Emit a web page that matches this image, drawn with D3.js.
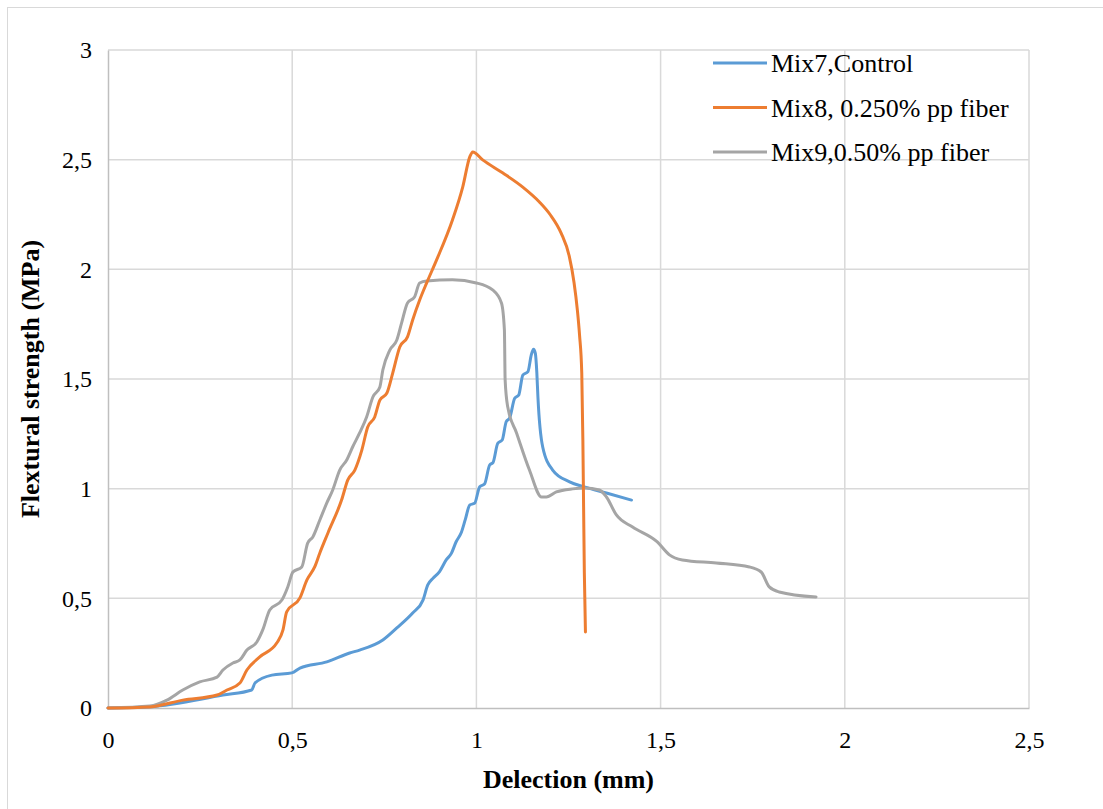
<!DOCTYPE html>
<html>
<head>
<meta charset="utf-8">
<script src="https://cdn.jsdelivr.net/npm/d3@7"></script>
<style>
  html, body { margin: 0; padding: 0; background: #fff; }
  svg { display: block; }
</style>
</head>
<body>
<svg id="chart" width="1103" height="809"></svg>
<script>
// Deflection (mm) / flexural strength (MPa) readings
const mix7X = [0, 0.114, 0.312, 0.390, 0.399, 0.445, 0.499, 0.521, 0.594, 0.656, 0.683, 0.746, 0.784, 0.827, 0.855, 0.868, 0.882, 0.900, 0.918, 0.932, 0.945, 0.959, 0.970, 0.982, 0.995, 1.009, 1.022, 1.036, 1.045, 1.058, 1.070, 1.081, 1.090, 1.104, 1.115, 1.126, 1.140, 1.149, 1.155, 1.160, 1.164, 1.167, 1.180, 1.207, 1.253, 1.293, 1.353, 1.421];
const mix7Y = [0, 0.006, 0.059, 0.082, 0.114, 0.150, 0.160, 0.182, 0.210, 0.251, 0.264, 0.310, 0.365, 0.433, 0.492, 0.561, 0.591, 0.622, 0.675, 0.705, 0.758, 0.800, 0.860, 0.926, 0.933, 1.009, 1.021, 1.108, 1.119, 1.207, 1.222, 1.306, 1.321, 1.412, 1.427, 1.518, 1.534, 1.610, 1.636, 1.617, 1.530, 1.418, 1.190, 1.085, 1.031, 1.008, 0.980, 0.948];

const mix8X = [0, 0.114, 0.203, 0.296, 0.323, 0.358, 0.377, 0.412, 0.458, 0.475, 0.485, 0.521, 0.540, 0.561, 0.575, 0.597, 0.634, 0.651, 0.670, 0.689, 0.705, 0.724, 0.738, 0.757, 0.773, 0.792, 0.813, 0.827, 0.846, 0.865, 0.892, 0.935, 0.963, 0.982, 0.990, 1.017, 1.071, 1.125, 1.171, 1.200, 1.230, 1.252, 1.265, 1.274, 1.280, 1.286, 1.289, 1.291, 1.293, 1.296];
const mix8Y = [0, 0.005, 0.036, 0.059, 0.082, 0.114, 0.173, 0.233, 0.296, 0.356, 0.438, 0.502, 0.584, 0.643, 0.707, 0.798, 0.948, 1.040, 1.085, 1.176, 1.281, 1.327, 1.404, 1.436, 1.528, 1.646, 1.692, 1.769, 1.860, 1.938, 2.043, 2.225, 2.376, 2.513, 2.535, 2.499, 2.440, 2.376, 2.307, 2.250, 2.165, 2.060, 1.940, 1.815, 1.700, 1.528, 1.222, 0.917, 0.616, 0.347];

const mix9X = [0, 0.114, 0.160, 0.203, 0.249, 0.296, 0.312, 0.339, 0.358, 0.377, 0.404, 0.420, 0.439, 0.472, 0.488, 0.502, 0.526, 0.542, 0.556, 0.575, 0.594, 0.610, 0.629, 0.648, 0.664, 0.683, 0.702, 0.719, 0.738, 0.746, 0.765, 0.784, 0.797, 0.813, 0.832, 0.846, 0.865, 0.935, 1.000, 1.044, 1.068, 1.076, 1.078, 1.085, 1.109, 1.144, 1.177, 1.190, 1.217, 1.261, 1.293, 1.334, 1.353, 1.380, 1.424, 1.491, 1.524, 1.559, 1.651, 1.741, 1.773, 1.795, 1.822, 1.922];
const mix9Y = [0, 0.009, 0.036, 0.082, 0.119, 0.141, 0.173, 0.205, 0.219, 0.264, 0.301, 0.356, 0.447, 0.492, 0.552, 0.620, 0.643, 0.752, 0.780, 0.857, 0.935, 0.994, 1.085, 1.131, 1.190, 1.254, 1.327, 1.418, 1.464, 1.541, 1.632, 1.678, 1.756, 1.847, 1.874, 1.938, 1.947, 1.952, 1.938, 1.906, 1.847, 1.724, 1.496, 1.373, 1.254, 1.085, 0.962, 0.962, 0.985, 0.999, 1.003, 0.994, 0.962, 0.880, 0.825, 0.757, 0.698, 0.675, 0.661, 0.643, 0.620, 0.552, 0.529, 0.506];

const seriesNames = ["Mix7,Control", "Mix8, 0.250% pp fiber", "Mix9,0.50% pp fiber"];
const seriesColors = ["#5b9bd5", "#ed7d31", "#a5a5a5"];

const xTicks = [0, 0.5, 1, 1.5, 2, 2.5];
const yTicks = [0, 0.5, 1, 1.5, 2, 2.5, 3];

const xTitle = "Delection (mm)";
const yTitle = "Flextural strength (MPa)";

const FONT = '"Liberation Serif", "Times New Roman", Tinos, "DejaVu Serif", serif';

const svg = d3.select("#chart");
const W = 1103, H = 809;
const plot = { left: 108, right: 1029, top: 50, bottom: 708 };

// outer chart frame
svg.append("rect")
  .attr("x", 7.5).attr("y", 7.5)
  .attr("width", W + 20).attr("height", H + 20)
  .attr("fill", "#fff").attr("stroke", "#d9d9d9").attr("stroke-width", 1);

const x = d3.scaleLinear().domain([0, 2.5]).range([plot.left, plot.right]);
const y = d3.scaleLinear().domain([0, 3]).range([plot.bottom, plot.top]);

const fmt = d => String(d).replace(".", ",");

// gridlines
const grid = svg.append("g").attr("stroke", "#d9d9d9").attr("stroke-width", 1.5);
xTicks.slice(1).forEach(t => {
  grid.append("line").attr("x1", x(t)).attr("x2", x(t)).attr("y1", plot.top).attr("y2", plot.bottom);
});
yTicks.slice(1).forEach(t => {
  grid.append("line").attr("x1", plot.left).attr("x2", plot.right).attr("y1", y(t)).attr("y2", y(t));
});

// axes
const xAxis = svg.append("g")
  .attr("transform", `translate(0,${plot.bottom})`)
  .call(d3.axisBottom(x).tickValues(xTicks).tickFormat(fmt).tickSize(0).tickPadding(23));
const yAxis = svg.append("g")
  .attr("transform", `translate(${plot.left},0)`)
  .call(d3.axisLeft(y).tickValues(yTicks).tickFormat(fmt).tickSize(0).tickPadding(16));
[xAxis, yAxis].forEach(a => {
  a.attr("font-family", FONT).attr("font-size", 24);
  a.select(".domain").attr("stroke", "#bfbfbf").attr("stroke-width", 1.5);
  a.selectAll("text").attr("fill", "#000");
});

// series
const line = d3.line()
  .x(d => x(d[0])).y(d => y(d[1]))
  .curve(d3.curveMonotoneX);

const series = [
  d3.zip(mix7X, mix7Y),
  d3.zip(mix8X, mix8Y),
  d3.zip(mix9X, mix9Y)
];

[0, 2, 1].forEach(i => {
  svg.append("path")
    .datum(series[i])
    .attr("fill", "none")
    .attr("stroke", seriesColors[i])
    .attr("stroke-width", 3)
    .attr("stroke-linejoin", "round")
    .attr("stroke-linecap", "round")
    .attr("d", line);
});

// axis titles
svg.append("text")
  .attr("x", (plot.left + plot.right) / 2).attr("y", 788)
  .attr("text-anchor", "middle")
  .attr("font-family", FONT).attr("font-size", 26).attr("font-weight", "bold")
  .text(xTitle);
svg.append("text")
  .attr("transform", `translate(39,${(plot.top + plot.bottom) / 2}) rotate(-90)`)
  .attr("text-anchor", "middle")
  .attr("font-family", FONT).attr("font-size", 26).attr("font-weight", "bold")
  .text(yTitle);

// legend
const legend = svg.append("g").attr("font-family", FONT).attr("font-size", 26);
seriesNames.forEach((name, i) => {
  const ly = 63 + i * 44.5;
  legend.append("line")
    .attr("x1", 713).attr("x2", 767).attr("y1", ly).attr("y2", ly)
    .attr("stroke", seriesColors[i]).attr("stroke-width", 3);
  legend.append("text")
    .attr("x", 771).attr("y", ly + 9)
    .text(name);
});
</script>
</body>
</html>
